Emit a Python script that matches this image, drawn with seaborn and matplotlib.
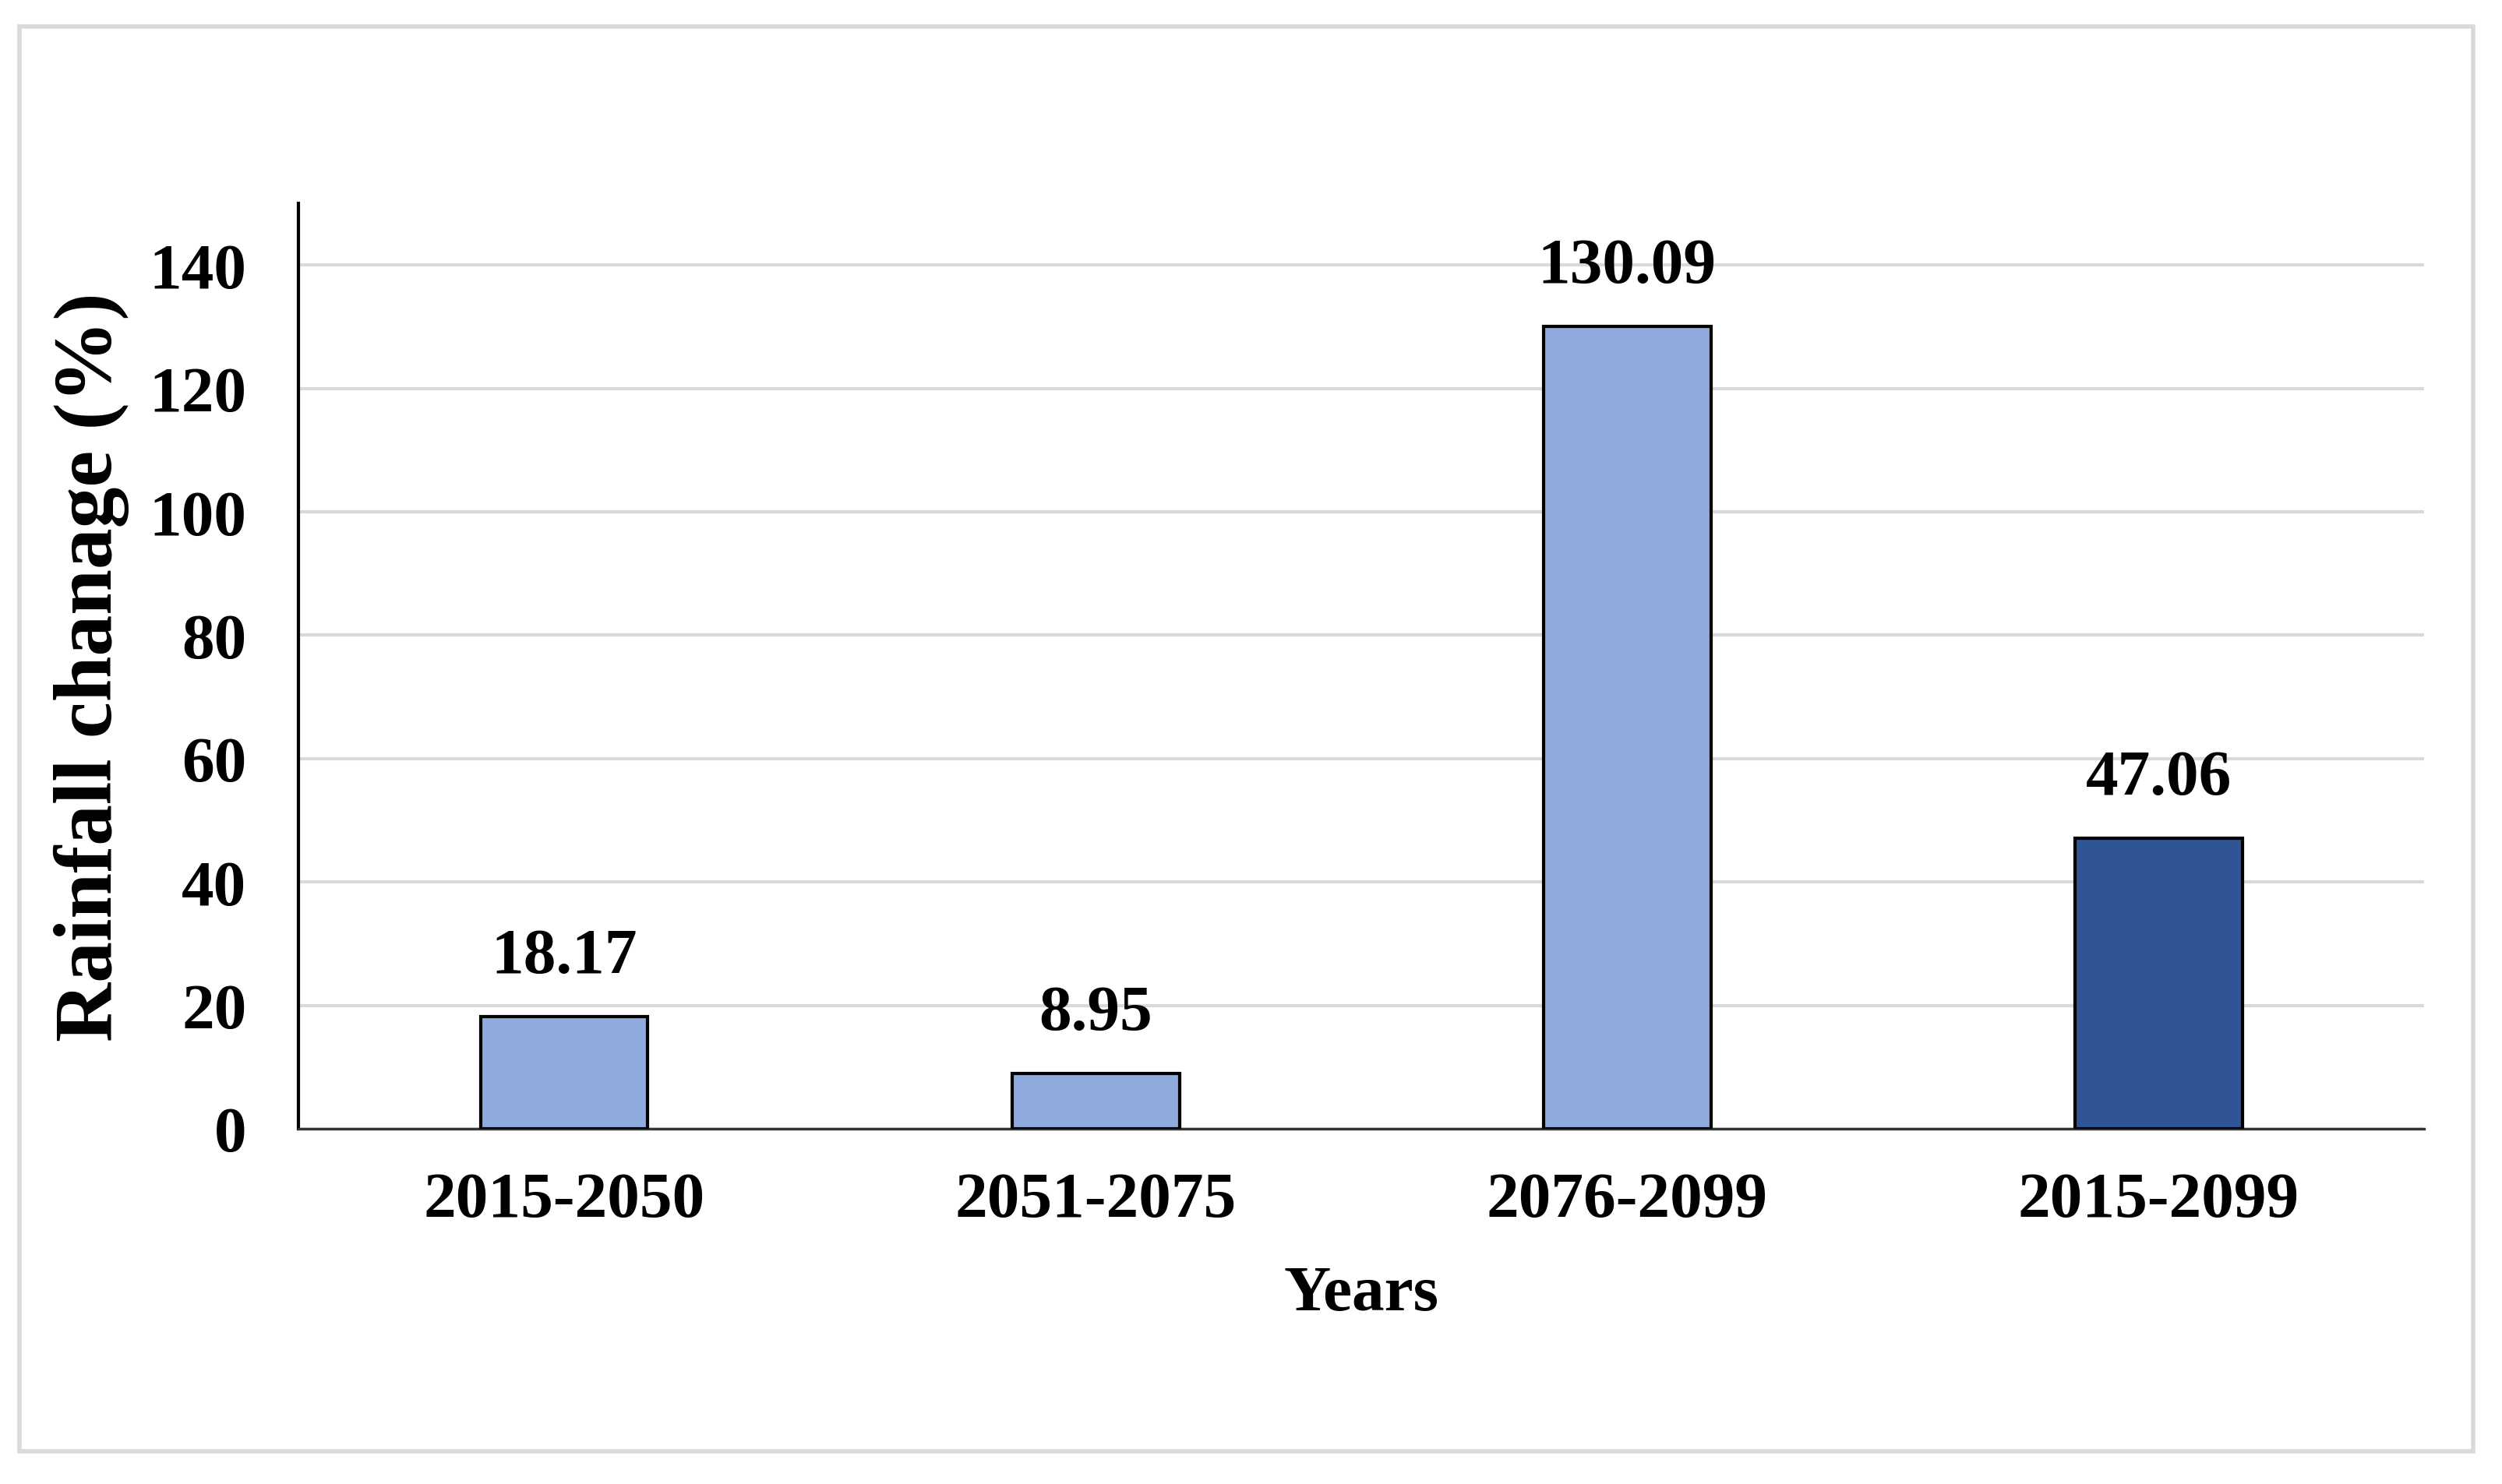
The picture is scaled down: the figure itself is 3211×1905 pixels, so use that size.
import matplotlib
matplotlib.use("Agg")
import matplotlib.pyplot as plt
from matplotlib.patches import Rectangle
import seaborn as sns
import pandas as pd

# Data
periods = ["2015-2050", "2051-2075", "2076-2099", "2015-2099"]
rainfall_change = [18.17, 8.95, 130.09, 47.06]
bar_colors = ["#8FAADC", "#8FAADC", "#8FAADC", "#2F5597"]
y_ticks = [0, 20, 40, 60, 80, 100, 120, 140]

sns.set_theme(style="white")
plt.rcParams['font.family'] = ['Liberation Serif', 'DejaVu Serif']
plt.rcParams['font.weight'] = 'bold'
plt.rcParams['text.color'] = 'black'
plt.rcParams['axes.labelcolor'] = 'black'
plt.rcParams['xtick.color'] = 'black'
plt.rcParams['ytick.color'] = 'black'

df = pd.DataFrame({"Years": periods, "Change": rainfall_change})

fig = plt.figure(figsize=(16.055, 9.53), dpi=200)
ax = fig.add_axes([0.1193, 0.2393, 0.8496, 0.6232])

sns.barplot(data=df, x="Years", y="Change", hue="Years", palette=bar_colors,
            width=0.315, edgecolor="black", linewidth=1.5, legend=False,
            ax=ax, zorder=3, saturation=1)

for cont in ax.containers:
    ax.bar_label(cont, fmt="%.2f", padding=14, fontsize=30, fontweight="bold",
                 color="black")

ax.set_ylim(0, 150)
ax.set_xlim(-0.5, 3.5)
ax.set_yticks(y_ticks)
ax.yaxis.grid(True, color="#d9d9d9", linewidth=1.5, zorder=0)
ax.set_axisbelow(True)

for side in ["top", "right"]:
    ax.spines[side].set_visible(False)
ax.spines["left"].set_color("black")
ax.spines["left"].set_linewidth(1.5)
ax.spines["bottom"].set_color("#333333")
ax.spines["bottom"].set_linewidth(1.2)

ax.tick_params(axis="both", length=0, labelsize=30, colors="black")
ax.tick_params(axis="x", pad=20)
ax.tick_params(axis="y", pad=24)
for lab in ax.get_xticklabels() + ax.get_yticklabels():
    lab.set_fontweight("bold")

ax.set_xlabel("Years", fontsize=30, fontweight="bold", labelpad=16, color="black")
ax.set_ylabel("Rainfall chanage (%)", fontsize=38, fontweight="bold", labelpad=9,
              color="black")

fig.patches.append(Rectangle((0.0078, 0.022), 0.9807, 0.9596, transform=fig.transFigure,
                             fill=False, edgecolor="#d9d9d9", linewidth=2))

fig.savefig("out.png", dpi=200, facecolor="white")
